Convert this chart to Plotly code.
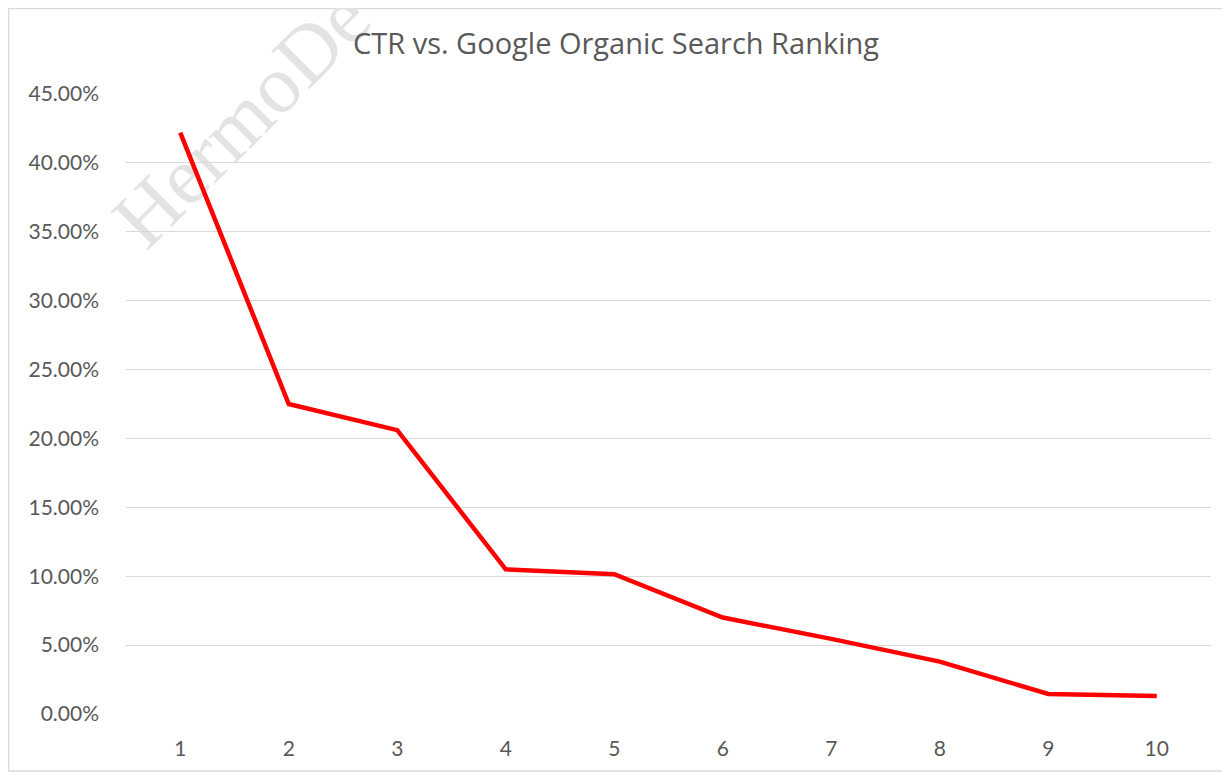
import plotly.graph_objects as go

rankings = [1, 2, 3, 4, 5, 6, 7, 8, 9, 10]
ctr = [0.422, 0.225, 0.206, 0.105, 0.1015, 0.070, 0.0545, 0.038, 0.0145, 0.013]
y_ticks = [0, 0.05, 0.10, 0.15, 0.20, 0.25, 0.30, 0.35, 0.40, 0.45]
y_tick_labels = ["0.00%", "5.00%", "10.00%", "15.00%", "20.00%", "25.00%",
                 "30.00%", "35.00%", "40.00%", "45.00%"]
title_text = "CTR vs. Google Organic Search Ranking"
watermark = "HermoDe"

W, H = 1230, 773
OFF = 8  # page body margin offset
L, T = 126 - OFF, 94 - OFF
R = W - (1211 - OFF)
B = H - (714 - OFF)
pw, ph = W - L - R, H - T - B

def px_x(x):
    return (x - OFF - L) / pw

def px_y(y):
    return (H - B - (y - OFF)) / ph

fig = go.Figure()
fig.add_trace(go.Scatter(
    x=rankings, y=ctr, mode="lines",
    line=dict(color="#ff0000", width=4.5),
    showlegend=False, hoverinfo="x+y",
))

wx, wy = 235, 112
fig.update_layout(
    width=W, height=H,
    margin=dict(l=L, r=R, t=T, b=B),
    paper_bgcolor="white", plot_bgcolor="rgba(0,0,0,0)",
    font=dict(family="Lato, Open Sans, sans-serif", color="#595959"),
    title=dict(text=title_text, x=px_x(616), xref="paper", xanchor="center",
               y=1 - (44 - OFF) / H, yanchor="middle",
               font=dict(size=29, color="#595959", family="Open Sans, Lato, sans-serif")),
    xaxis=dict(range=[0.5, 10.5], tickvals=rankings, ticktext=[str(r) for r in rankings],
               showgrid=False, zeroline=False, showline=False, ticks="",
               tickfont=dict(size=21, color="#595959"), ticklabelstandoff=20),
    yaxis=dict(range=[0, 0.45], tickvals=y_ticks, ticktext=y_tick_labels,
               showgrid=True, gridcolor="#d9d9d9", gridwidth=1,
               zeroline=False, showline=False, ticks="",
               tickfont=dict(size=21, color="#595959"), ticklabelstandoff=26),
    shapes=[
        dict(type="rect", xref="paper", yref="paper",
             x0=px_x(OFF + 0.5), x1=px_x(1229.5), y0=px_y(771), y1=px_y(OFF + 0.5),
             line=dict(color="#d9d9d9", width=1.5), layer="below"),
        dict(type="rect", xref="paper", yref="paper",
             x0=px_x(wx - 5), x1=px_x(wx + 5), y0=px_y(wy + 5), y1=px_y(wy - 5),
             line=dict(width=0), fillcolor="rgba(0,0,0,0)", layer="below",
             label=dict(text=watermark, textangle=-45, textposition="middle center",
                        font=dict(family="Liberation Serif, DejaVu Serif, serif",
                                  size=82, color="#e3e3e3"))),
    ],
)

fig.write_html("out.html")
